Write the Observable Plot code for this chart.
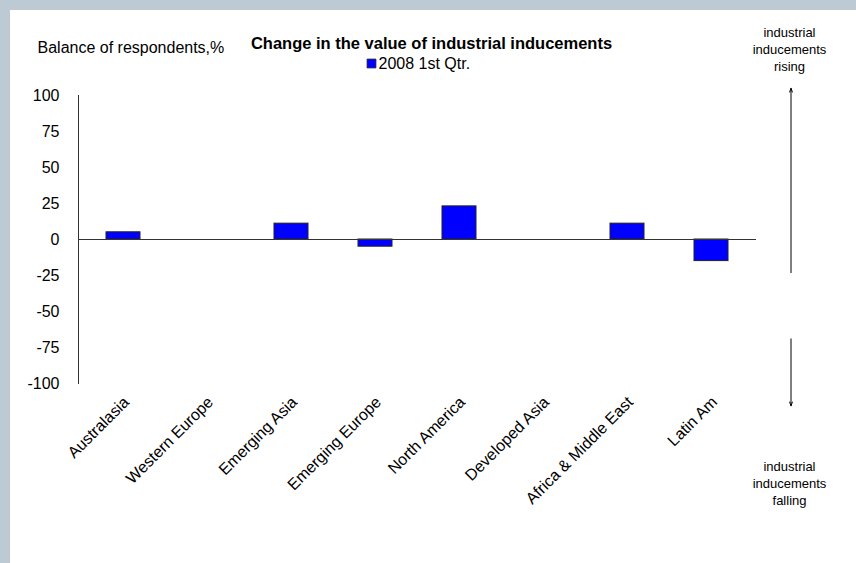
<!DOCTYPE html>
<html><head><meta charset="utf-8">
<script src="https://cdn.jsdelivr.net/npm/d3@7"></script>
<script src="https://cdn.jsdelivr.net/npm/@observablehq/plot@0.6"></script>
<style>
html,body{margin:0;padding:0;background:#bdcad4;overflow:hidden;}
#wrap{position:absolute;left:10px;top:10px;width:846px;height:553px;background:#fff;}
</style></head><body><div id="wrap"></div>
<script>
const regions = ["Australasia","Western Europe","Emerging Asia","Emerging Europe","North America","Developed Asia","Africa & Middle East","Latin Am"];
const values = [5, 0, 11, -5, 23, 0, 11, -15];
const yTicks = [-100,-75,-50,-25,0,25,50,75,100];
const seriesName = "2008 1st Qtr.";
const titleText = "Change in the value of industrial inducements";
const yLabel = "Balance of respondents,%";
const risingText = "industrial\ninducements\nrising";
const fallingText = "industrial\ninducements\nfalling";

const data = regions.map((r, i) => ({region: r, value: values[i]}));
const font = "Arial, 'Liberation Sans', sans-serif";

const chart = Plot.plot({
  width: 846, height: 553,
  marginLeft: 68, marginRight: 100, marginTop: 85, marginBottom: 180,
  style: {fontFamily: font, color: "#000", background: "transparent", overflow: "visible"},
  x: {domain: regions, paddingInner: 0.59, paddingOuter: 0.295, label: null},
  y: {domain: [-100, 100], label: null},
  marks: [
    Plot.barY(data.filter(d => d.value !== 0), {x: "region", y: "value", fill: "#0000ff", stroke: "#222", strokeWidth: 1}),
    Plot.ruleY([0], {stroke: "#333", strokeWidth: 1}),
    Plot.frame({anchor: "left", stroke: "#333"}),
    Plot.axisY({ticks: yTicks, tickFormat: d => String(d), tickSize: 0, tickPadding: 19, fontSize: 16, label: null}),
    Plot.axisX({tickRotate: -45, tickSize: 0, tickPadding: 6, dx: 3, dy: 10, fontSize: 16, label: null}),
    Plot.text([yLabel], {text: d => d, frameAnchor: "top-left", dx: -41, dy: -48, textAnchor: "start", lineAnchor: "middle", fontSize: 16}),
    Plot.text([titleText], {text: d => d, frameAnchor: "top-left", dx: 353, dy: -52, textAnchor: "middle", lineAnchor: "middle", fontSize: 16.5, fontWeight: "bold"}),
    Plot.dot([seriesName], {frameAnchor: "top-left", dx: 293, dy: -32, symbol: "square", r: 5, fill: "#0000ff", stroke: "#222", strokeWidth: 0.8}),
    Plot.text([seriesName], {text: d => d, frameAnchor: "top-left", dx: 300, dy: -32, textAnchor: "start", lineAnchor: "middle", fontSize: 16}),
    Plot.text([risingText], {text: d => d, frameAnchor: "top-left", dx: 711, dy: -47, textAnchor: "middle", lineAnchor: "middle", fontSize: 13, lineHeight: 1.3}),
    Plot.text([fallingText], {text: d => d, frameAnchor: "top-left", dx: 711, dy: 387, textAnchor: "middle", lineAnchor: "middle", fontSize: 13, lineHeight: 1.3}),
    Plot.arrow([0], {x1: () => "Latin Am", x2: () => "Latin Am", y1: () => -23, y2: () => 105, dx: 79.5, stroke: "#000", strokeWidth: 1, headLength: 6, headAngle: 40}),
    Plot.arrow([0], {x1: () => "Latin Am", x2: () => "Latin Am", y1: () => -69, y2: () => -115.5, dx: 79.5, stroke: "#000", strokeWidth: 1, headLength: 6, headAngle: 40})
  ]
});
document.getElementById("wrap").appendChild(chart);
</script></body></html>
